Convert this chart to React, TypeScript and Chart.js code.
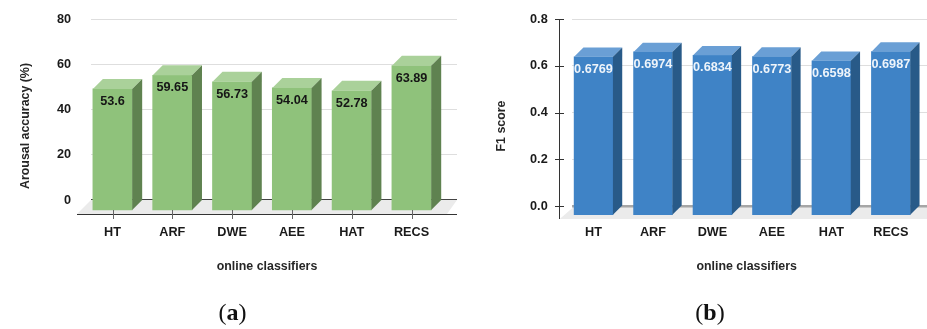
import React, { useEffect, useRef } from "react";
import { Chart, registerables } from "chart.js";

Chart.register(...registerables);

const classifiers = ["HT", "ARF", "DWE", "AEE", "HAT", "RECS"];
const arousalAccuracy = [53.6, 59.65, 56.73, 54.04, 52.78, 63.89];
const arousalLabels = ["53.6", "59.65", "56.73", "54.04", "52.78", "63.89"];
const f1Score = [0.6769, 0.6974, 0.6834, 0.6773, 0.6598, 0.6987];
const f1Labels = ["0.6769", "0.6974", "0.6834", "0.6773", "0.6598", "0.6987"];
const arousalTicks = [0, 20, 40, 60, 80];
const f1Ticks = [0, 0.2, 0.4, 0.6, 0.8];
const xAxisTitle = "online classifiers";

const FONT = "'Liberation Sans', Arial, sans-serif";

type PanelConfig = {
  values: number[];
  labels: string[];
  ticks: number[];
  tickDecimals: number;
  yTitle: string;
  yTitleX: number;
  xTitleX: number;
  yMin: number;
  yMax: number;
  frontShift: number;
  xMin: number;
  xMax: number;
  barWidth: number;
  depthX: number;
  depthY: number;
  areaLeft: number;
  areaRight: number;
  areaBottom: number;
  tickGap: number;
  xPadding: number;
  colors: { front: string; side: string; top: string; label: string };
  zeroLine: { color: string; width: number };
  frame: "bottomAxis" | "leftAxis";
};

const clearScalePadding = (s: any) => {
  s.paddingTop = 0;
  s.paddingBottom = 0;
  s.paddingLeft = 0;
  s.paddingRight = 0;
};

// Draws the floor below the grid, then the extruded faces, value labels and axis titles.
const extrusion = {
  id: "extrusion",
  beforeDraw(chart: any, _a: any, o: any) {
    const { ctx, chartArea: ca } = chart;
    const cfg: PanelConfig = o.cfg;
    const zeroY = chart.scales.y.getPixelForValue(0);
    ctx.save();
    ctx.fillStyle = "#ebebeb";
    ctx.beginPath();
    if (cfg.frame === "bottomAxis") {
      ctx.moveTo(ca.left - 14, ca.bottom);
      ctx.lineTo(ca.left, zeroY);
      ctx.lineTo(ca.right, zeroY);
      ctx.lineTo(ca.right - 10, ca.bottom);
    } else {
      ctx.moveTo(ca.left - 12, ca.bottom);
      ctx.lineTo(ca.left + 3, zeroY);
      ctx.lineTo(ca.right, zeroY);
      ctx.lineTo(ca.right, ca.bottom);
    }
    ctx.closePath();
    ctx.fill();
    ctx.restore();
  },
  afterDatasetsDraw(chart: any, _a: any, o: any) {
    const { ctx, chartArea: ca } = chart;
    const cfg: PanelConfig = o.cfg;
    const dx = cfg.depthX;
    const dy = cfg.depthY;
    const bars = chart.getDatasetMeta(0).data;
    ctx.save();
    bars.forEach((bar: any) => {
      const l = bar.x - bar.width / 2;
      const r = bar.x + bar.width / 2;
      ctx.fillStyle = cfg.colors.top;
      ctx.beginPath();
      ctx.moveTo(l, bar.y);
      ctx.lineTo(l + dx, bar.y - dy);
      ctx.lineTo(r + dx, bar.y - dy);
      ctx.lineTo(r, bar.y);
      ctx.closePath();
      ctx.fill();
      ctx.fillStyle = cfg.colors.side;
      ctx.beginPath();
      ctx.moveTo(r, bar.y);
      ctx.lineTo(r + dx, bar.y - dy);
      ctx.lineTo(r + dx, bar.base - dy);
      ctx.lineTo(r, bar.base);
      ctx.closePath();
      ctx.fill();
    });

    ctx.strokeStyle = "#333333";
    ctx.lineWidth = 1;
    ctx.beginPath();
    if (cfg.frame === "bottomAxis") {
      const axisY = Math.round(ca.bottom) + 0.5;
      ctx.moveTo(ca.left - 14, axisY);
      ctx.lineTo(ca.right, axisY);
      ctx.stroke();
      ctx.strokeStyle = "#666666";
      ctx.beginPath();
      chart.scales.x.ticks.forEach((t: any) => {
        const x = Math.round(chart.scales.x.getPixelForValue(t.value)) + 0.5;
        ctx.moveTo(x, ca.bottom - 4);
        ctx.lineTo(x, ca.bottom + 5);
      });
      ctx.stroke();
    } else {
      const axisX = Math.round(ca.left - 13) + 0.5;
      ctx.moveTo(axisX, ca.top);
      ctx.lineTo(axisX, ca.bottom);
      cfg.ticks.forEach((v) => {
        const y = Math.round(chart.scales.y.getPixelForValue(v)) + 0.5;
        ctx.moveTo(axisX - 4.5, y);
        ctx.lineTo(axisX + 4.5, y);
      });
      ctx.stroke();
    }

    ctx.fillStyle = cfg.colors.label;
    ctx.font = `bold 12.7px ${FONT}`;
    ctx.textAlign = "center";
    ctx.textBaseline = "middle";
    bars.forEach((bar: any, i: number) => {
      ctx.fillText(cfg.labels[i], bar.x, bar.y + 12.5);
    });

    ctx.fillStyle = "#262626";
    ctx.font = `bold 12.4px ${FONT}`;
    ctx.fillText(xAxisTitle, cfg.xTitleX, 266.7);
    ctx.translate(cfg.yTitleX, 126);
    ctx.rotate(-Math.PI / 2);
    ctx.fillText(cfg.yTitle, 0, 0);
    ctx.restore();
  },
};

function Panel({ cfg, left, width }: { cfg: PanelConfig; left: number; width: number }) {
  const ref = useRef<HTMLCanvasElement>(null);

  useEffect(() => {
    const chart = new Chart(ref.current as HTMLCanvasElement, {
      type: "bar",
      data: {
        datasets: [
          {
            data: cfg.values.map((v, i) => ({ x: i, y: v })),
            backgroundColor: cfg.colors.front,
            barThickness: cfg.barWidth,
            xAxisID: "x",
            yAxisID: "yFront",
          },
        ],
      },
      plugins: [extrusion],
      options: {
        animation: false,
        responsive: false,
        layout: {
          padding: { left: 18, top: 19.3, right: width - cfg.areaRight, bottom: 329 - 274 },
        },
        plugins: {
          legend: { display: false },
          tooltip: { enabled: false },
          extrusion: { cfg },
        } as any,
        scales: {
          x: {
            type: "linear",
            offset: false,
            min: cfg.xMin,
            max: cfg.xMax,
            grid: { display: false, drawTicks: false },
            border: { display: false },
            afterBuildTicks: (s: any) => {
              s.ticks = classifiers.map((_, i) => ({ value: i }));
            },
            afterFit: (s: any) => {
              s.height = 274 - cfg.areaBottom;
              clearScalePadding(s);
            },
            ticks: {
              autoSkip: false,
              maxRotation: 0,
              padding: cfg.xPadding,
              color: "#1a1a1a",
              font: { family: FONT, size: 12.7, weight: "bold" },
              callback: (v: any) => classifiers[v],
            },
          },
          y: {
            type: "linear",
            position: "left",
            min: cfg.yMin,
            max: cfg.yMax,
            grid: {
              drawTicks: false,
              color: (c: any) => (c.tick && c.tick.value === 0 ? cfg.zeroLine.color : "#dedede"),
              lineWidth: (c: any) => (c.tick && c.tick.value === 0 ? cfg.zeroLine.width : 1),
            },
            border: { display: false },
            afterBuildTicks: (s: any) => {
              s.ticks = cfg.ticks.map((value) => ({ value }));
            },
            afterFit: (s: any) => {
              s.width = cfg.areaLeft - 18;
              clearScalePadding(s);
            },
            ticks: {
              autoSkip: false,
              padding: cfg.tickGap,
              color: "#1a1a1a",
              font: { family: FONT, size: 12.7, weight: "bold" },
              callback: (v: any) => Number(v).toFixed(cfg.tickDecimals),
            },
          },
          // Same pixel scale as the back wall, shifted forward by the extrusion depth.
          yFront: {
            type: "linear",
            display: false,
            min: cfg.yMin + cfg.frontShift,
            max: cfg.yMax + cfg.frontShift,
          },
        },
      } as any,
    });
    return () => chart.destroy();
  }, [cfg, width]);

  return (
    <canvas
      ref={ref}
      width={width}
      height={329}
      style={{ position: "absolute", left, top: 0, width, height: 329 }}
    />
  );
}

const arousalPanel: PanelConfig = {
  values: arousalAccuracy,
  labels: arousalLabels,
  ticks: arousalTicks,
  tickDecimals: 0,
  yTitle: "Arousal accuracy (%)",
  yTitleX: 25.5,
  xTitleX: 267,
  yMin: -6.2,
  yMax: 80,
  frontShift: 4.43,
  xMin: -0.36,
  xMax: 5.76,
  barWidth: 39.3,
  depthX: 10,
  depthY: 10,
  areaLeft: 91,
  areaRight: 457,
  areaBottom: 214,
  tickGap: 20,
  xPadding: 11,
  colors: { front: "#8fc27b", side: "#5f8250", top: "#aad19a", label: "#161616" },
  zeroLine: { color: "#444444", width: 1 },
  frame: "bottomAxis",
};

const f1Panel: PanelConfig = {
  values: f1Score,
  labels: f1Labels,
  ticks: f1Ticks,
  tickDecimals: 1,
  yTitle: "F1 score",
  yTitleX: 31.5,
  xTitleX: 276.7,
  yMin: -0.0557,
  yMax: 0.8,
  frontShift: 0.0373,
  xMin: -0.367,
  xMax: 5.608,
  barWidth: 38.8,
  depthX: 9.3,
  depthY: 9.3,
  areaLeft: 101.7,
  areaRight: 457,
  areaBottom: 219,
  tickGap: 24,
  xPadding: 6,
  colors: { front: "#3f83c6", side: "#285a88", top: "#6a9fd5", label: "#eef4fa" },
  zeroLine: { color: "#a6a6a6", width: 2.5 },
  frame: "leftAxis",
};

function Caption({ letter, center }: { letter: string; center: number }) {
  return (
    <div
      style={{
        position: "absolute",
        left: center - 40,
        width: 80,
        top: 298,
        textAlign: "center",
        fontFamily: "'Liberation Serif', serif",
        fontSize: 24,
        lineHeight: "28px",
        color: "#111111",
      }}
    >
      (<b>{letter}</b>)
    </div>
  );
}

export default function App() {
  return (
    <div style={{ position: "absolute", left: 0, top: 0, width: 927, height: 329, background: "#ffffff", overflow: "hidden" }}>
      <Panel cfg={arousalPanel} left={0} width={470} />
      <Panel cfg={f1Panel} left={470} width={457} />
      <Caption letter="a" center={232.5} />
      <Caption letter="b" center={710} />
    </div>
  );
}
